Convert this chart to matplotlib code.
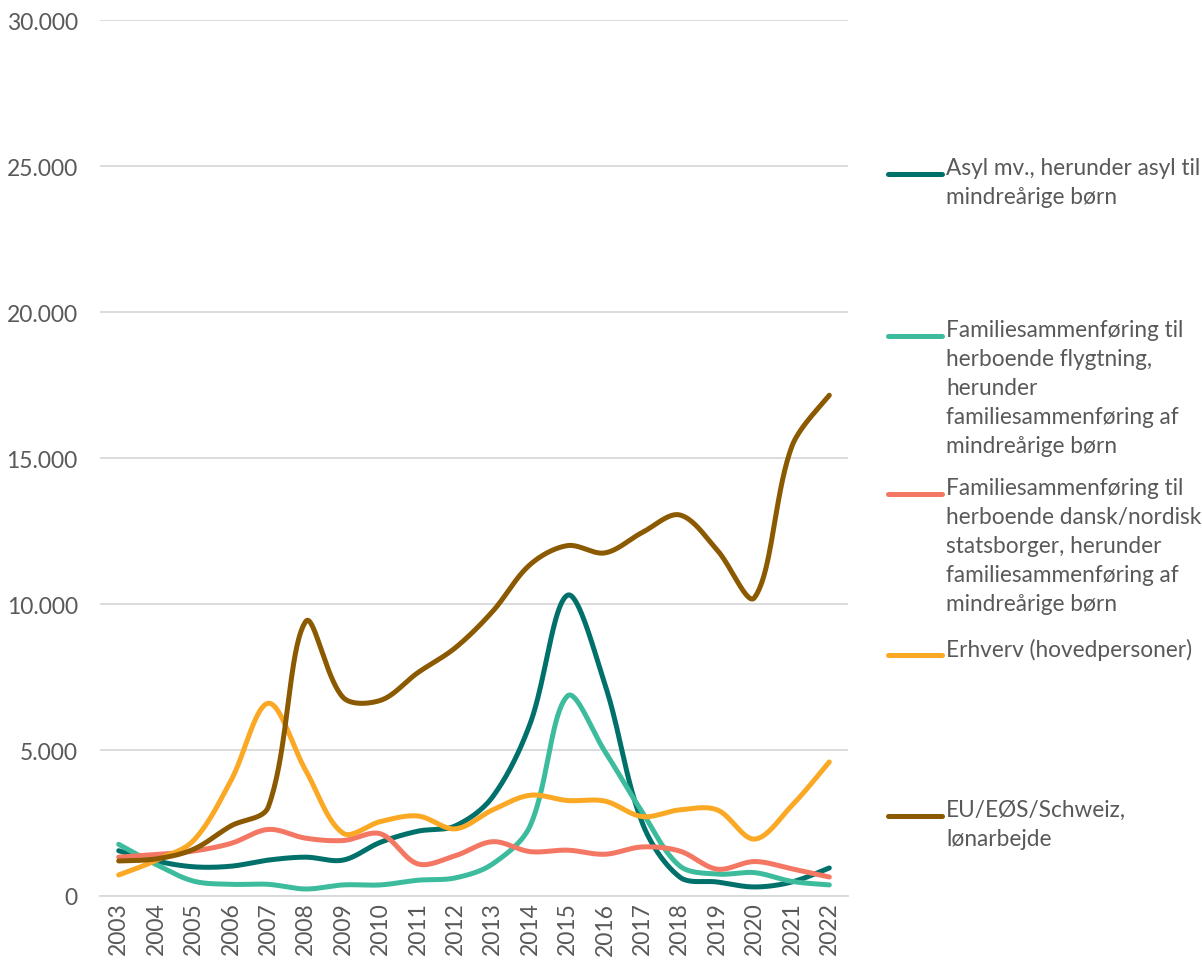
import numpy as np
import matplotlib
matplotlib.use('Agg')
import matplotlib.pyplot as plt
from matplotlib.lines import Line2D
from matplotlib.ticker import FuncFormatter

plt.rcParams['font.family'] = ['Lato', 'DejaVu Sans']

########## Data ##########
years = [str(y) for y in range(2003, 2023)]

asyl = [1550, 1200, 1000, 1020, 1230, 1330, 1230, 1840, 2220, 2400,
        3400, 5900, 10300, 7250, 2500, 650, 480, 310, 480, 960]
fam_flygt = [1770, 1080, 510, 400, 400, 240, 380, 380, 540, 620,
             1100, 2400, 6850, 4950, 2870, 1030, 750, 800, 500, 380]
fam_dansk = [1330, 1420, 1540, 1800, 2280, 1980, 1900, 2130, 1100, 1380,
             1860, 1520, 1570, 1430, 1680, 1540, 920, 1180, 930, 650]
erhverv = [720, 1220, 1900, 3950, 6600, 4300, 2150, 2550, 2740, 2300,
           2950, 3450, 3270, 3250, 2720, 2950, 2950, 1950, 3100, 4590]
eu_eos = [1200, 1270, 1600, 2400, 3050, 9400, 6800, 6700, 7650, 8500,
          9750, 11350, 12000, 11750, 12450, 13050, 11850, 10220, 15400, 17150]

labels = ['Asyl mv., herunder asyl til\nmindreårige børn',
          'Familiesammenføring til\nherboende flygtning,\nherunder\nfamiliesammenføring af\nmindreårige børn',
          'Familiesammenføring til\nherboende dansk/nordisk\nstatsborger, herunder\nfamiliesammenføring af\nmindreårige børn',
          'Erhverv (hovedpersoner)',
          'EU/EØS/Schweiz,\nlønarbejde']
series = [asyl, fam_flygt, fam_dansk, erhverv, eu_eos]
colors = ['#00706B', '#3CBC9D', '#F37762', '#FBA824', '#8B5A00']

########## Smooth (Excel-like, chord-length scaled Bezier) ##########
def smooth(y, sx = 37.4, sy = 1 / 34.25, n = 40):
    y = np.asarray(y, dtype = float)
    x = np.arange(len(y), dtype = float)
    P = np.column_stack([x * sx, y * sy])   # pixel space
    m = len(P)
    cin = np.zeros_like(P)
    cout = np.zeros_like(P)
    for i in range(m):
        a = P[max(i - 1, 0)]
        b = P[min(i + 1, m - 1)]
        T = b - a
        d0 = np.linalg.norm(P[i] - a)
        d1 = np.linalg.norm(b - P[i])
        tot = d0 + d1 if d0 + d1 > 0 else 1
        k = 0.5 if (i == 0 or i == m - 1) else 1.0
        cin[i] = P[i] - T * d0 / tot / 3 * k
        cout[i] = P[i] + T * d1 / tot / 3 * k
    t = np.linspace(0, 1, n)[:, None]
    segs = []
    for i in range(m - 1):
        p0, c1, c2, p3 = P[i], cout[i], cin[i + 1], P[i + 1]
        segs.append((1 - t) ** 3 * p0 + 3 * (1 - t) ** 2 * t * c1 + 3 * (1 - t) * t ** 2 * c2 + t ** 3 * p3)
    S = np.vstack(segs)
    return S[:, 0] / sx, S[:, 1] / sy

########## Plot ##########
W, H = 1202, 962
fig = plt.figure(figsize = [W / 100, H / 100], dpi = 100)
ax = fig.add_axes([100 / W, 1 - 897 / H, 748 / W, 876 / H])

for s, c in zip(series, colors):
    xx, yy = smooth(s)
    ax.plot(xx, yy, color = c, lw = 3.6, solid_capstyle = 'round', zorder = 3)

ax.set_xlim(-0.5, len(years) - 0.5)
ax.set_ylim(0, 30000)
ax.set_yticks(np.arange(0, 30001, 5000))
ax.yaxis.set_major_formatter(FuncFormatter(lambda v, p: f'{int(v):,}'.replace(',', '.')))
ax.set_xticks(np.arange(len(years)))
ax.set_xticklabels(years, rotation = 90)
ax.grid(axis = 'y', color = '#D9D9D9', lw = 1.3)
ax.set_axisbelow(True)
for k in ['top', 'right', 'left']:
    ax.spines[k].set_visible(False)
ax.spines['bottom'].set_color('#D9D9D9')
ax.spines['bottom'].set_linewidth(1.3)
ax.tick_params(axis = 'both', length = 0, labelsize = 16.5, colors = '#595959')
ax.tick_params(axis = 'y', pad = 16)
ax.tick_params(axis = 'x', pad = 4)

########## Legend ##########
leg_y = [175, 337, 495, 656, 817]
for lab, c, yl in zip(labels, colors, leg_y):
    fy = 1 - yl / H
    fig.add_artist(Line2D([888 / W, 942 / W], [fy, fy], color = c, lw = 3.6,
                          solid_capstyle = 'round', transform = fig.transFigure))
    fig.text(946 / W, 1 - (yl - 17) / H, lab, fontsize = 16.3, color = '#595959',
             va = 'top', ha = 'left', linespacing = 1.47)

fig.savefig('out.png', dpi = 100)
